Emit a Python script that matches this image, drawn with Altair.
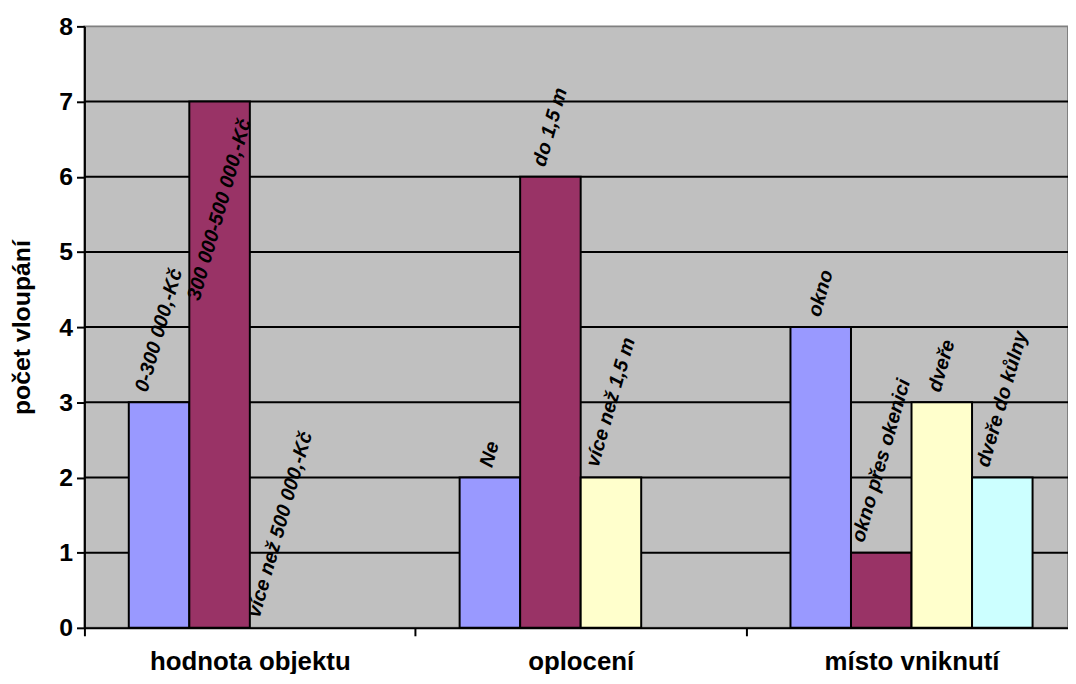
import math
import altair as alt
import pandas as pd

# ---- data ----
groups = ["hodnota objektu", "oplocení", "místo vniknutí"]
group_labels = [
    ["0-300 000,-Kč", "300 000-500 000,-Kč", "více než 500 000,-Kč"],
    ["Ne", "do 1,5 m", "více než 1,5 m"],
    ["okno", "okno přes okenici", "dveře", "dveře do kůlny"],
]
group_values = [
    [3, 7, 0],
    [2, 6, 2],
    [4, 1, 3, 2],
]
slot_colors = ["#9999FF", "#993366", "#FFFFCC", "#CCFFFF"]
y_ticks = [0, 1, 2, 3, 4, 5, 6, 7, 8]
grid_values = [1, 2, 3, 4, 5, 6, 7]

# ---- layout constants ----
PLOT_W = 991
PLOT_H = 606
Y_MAX = 8
PX = PLOT_H / Y_MAX
FS = 20
ANG = 74.0
FONT = "Arial, 'Liberation Sans', Helvetica, sans-serif"

# approximate Arial bold advance widths (em) to size the rotated labels
W = {" ": .278, ",": .278, "-": .333, "K": .722, "N": .722, "a": .556, "b": .611,
     "c": .556, "d": .611, "e": .556, "f": .333, "h": .611, "i": .278, "í": .278,
     "j": .278, "k": .556, "l": .278, "m": .889, "n": .611, "o": .611, "p": .611,
     "r": .389, "ř": .389, "s": .556, "t": .333, "u": .611, "ů": .611, "v": .556,
     "y": .556, "z": .5, "ž": .5, "č": .556, "ě": .556}


def text_len(s):
    return sum(W.get(ch, .556) for ch in s) * FS


rows = []
for g, labs, vals in zip(groups, group_labels, group_values):
    for i, (lab, v) in enumerate(zip(labs, vals)):
        L = text_len(lab)
        V = L * math.sin(math.radians(ANG)) + 0.75 * FS * math.cos(math.radians(ANG))
        top_px = v * PX
        if top_px + 9 + V > Y_MAX * PX - 4:
            center = top_px - 16 - V / 2
        else:
            center = top_px + 9 + V / 2
        rows.append({"group": g, "slot": i + 1, "value": v, "label": lab,
                     "label_y": center / PX})
df = pd.DataFrame(rows)
grid_df = pd.DataFrame({"g": grid_values})

x_enc = alt.X("group:N", sort=groups,
              scale=alt.Scale(range=[0, 1000], paddingInner=0, paddingOuter=0),
              axis=alt.Axis(title=None, labelAngle=0, labelFont=FONT, labelFontSize=26,
                            labelFontWeight="bold", labelColor="black", labelPadding=13,
                            labelLimit=0, domainColor="black", domainWidth=2,
                            tickColor="black", tickWidth=2, tickSize=8,
                            tickBand="extent", grid=False))
xoff = alt.XOffset("slot:N", scale=alt.Scale(domain=[1, 2, 3, 4], paddingInner=0,
                                             paddingOuter=0.733))
y_scale = alt.Scale(domain=[0, Y_MAX], nice=False)

grid = alt.Chart(grid_df).mark_rule(color="black", strokeWidth=2).encode(
    y=alt.Y("g:Q", scale=y_scale,
            axis=alt.Axis(values=y_ticks, format="d", title="počet vloupání",
                          titleFont=FONT, titleFontSize=25, titleFontWeight="bold",
                          titleColor="black", titleX=-50, titleY=PLOT_H / 2,
                          titleAngle=270, labelFont=FONT, labelFontSize=25,
                          labelFontWeight="bold", labelColor="black", labelPadding=4,
                          domainColor="black", domainWidth=2, tickColor="black",
                          tickWidth=2, tickSize=8, grid=False))
)

bars = alt.Chart(df).transform_filter("datum.value > 0").mark_bar(
    stroke="black", strokeWidth=2
).encode(
    x=x_enc,
    xOffset=xoff,
    y=alt.Y("value:Q", scale=y_scale),
    color=alt.Color("slot:N", scale=alt.Scale(domain=[1, 2, 3, 4], range=slot_colors),
                    legend=None),
)

labels = alt.Chart(df).mark_text(
    angle=360 - ANG, align="center", baseline="middle", font=FONT, fontSize=FS,
    fontWeight="bold", fontStyle="italic", color="black"
).encode(
    x=x_enc,
    xOffset=xoff,
    y=alt.Y("label_y:Q", scale=y_scale),
    text="label:N",
)

chart = alt.layer(grid, bars, labels).properties(
    width=PLOT_W, height=PLOT_H,
    autosize=alt.AutoSizeParams(type="none"),
    padding={"left": 77, "top": 16, "right": 0, "bottom": 44},
    background="white",
).configure_view(fill="#C0C0C0", stroke="#808080", strokeWidth=2)

chart.save("out.html", embed_options={"renderer": "svg", "actions": False})
